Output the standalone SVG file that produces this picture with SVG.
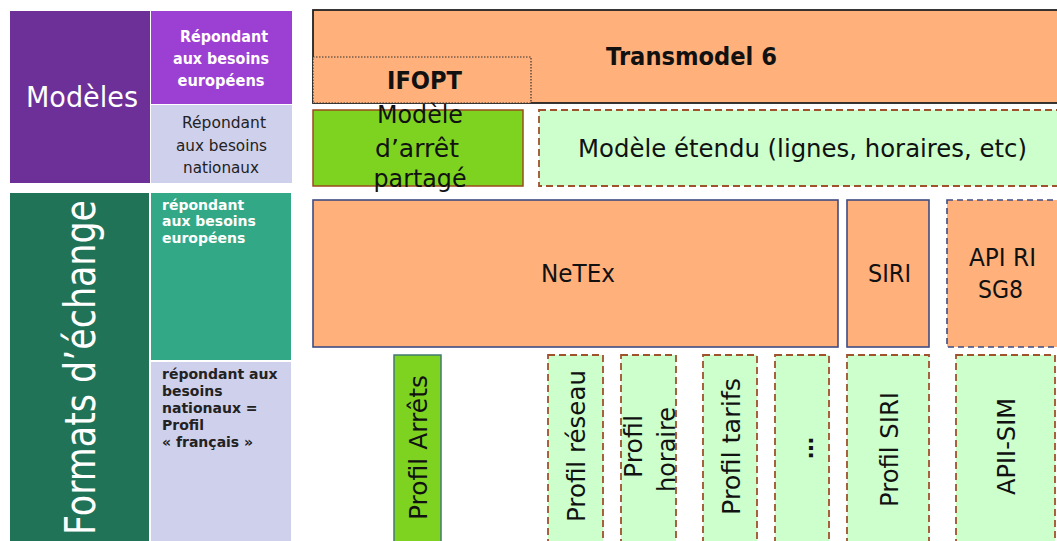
<svg xmlns="http://www.w3.org/2000/svg" width="1057" height="541" viewBox="0 0 1057 541">
<style>
text{font-family:"DejaVu Sans","Liberation Sans",sans-serif;}
.w{fill:#fff}
.k{fill:#111}
.d{fill:#222}
.b{font-weight:bold}
.m{text-anchor:middle}
.t25{font-size:25px}
.or{fill:#FFB07B}
.lg{fill:#CCFFCC;stroke:#A0522D;stroke-width:1.8;stroke-dasharray:7 4}
.nv{stroke:#3F4B82;stroke-width:1.6}
</style>
<rect width="1057" height="541" fill="#fff"/>
<g id="modeles">
<rect x="10" y="11" width="140" height="172" fill="#6D2F98"/>
<text class="w m" x="82" y="107" font-size="28" textLength="112" lengthAdjust="spacingAndGlyphs">Modèles</text>
</g>
<g id="modeles-europeens">
<rect x="151" y="11" width="141" height="93" fill="#9C3FD3"/>
<text class="w m b" font-size="15"><tspan x="224" y="42" textLength="88" lengthAdjust="spacingAndGlyphs">Répondant</tspan><tspan x="221" y="64" textLength="96" lengthAdjust="spacingAndGlyphs">aux besoins</tspan><tspan x="221" y="86" textLength="87" lengthAdjust="spacingAndGlyphs">européens</tspan></text>
</g>
<g id="modeles-nationaux">
<rect x="151" y="105" width="141" height="78" fill="#CFD0EC"/>
<text class="d m" font-size="15"><tspan x="224" y="128" textLength="84" lengthAdjust="spacingAndGlyphs">Répondant</tspan><tspan x="221.5" y="151" textLength="91" lengthAdjust="spacingAndGlyphs">aux besoins</tspan><tspan x="221" y="173" textLength="76" lengthAdjust="spacingAndGlyphs">nationaux</tspan></text>
</g>
<g id="formats">
<rect x="10" y="193" width="139" height="360" fill="#217358"/>
<text class="w m" font-size="42" transform="translate(95,367.5) rotate(-90)" textLength="335" lengthAdjust="spacingAndGlyphs">Formats d’échange</text>
</g>
<g id="formats-europeens">
<rect x="151" y="193" width="140" height="167" fill="#32A886"/>
<text class="w b" font-size="14"><tspan x="162" y="210">répondant</tspan><tspan x="162" y="226">aux besoins</tspan><tspan x="162" y="243">européens</tspan></text>
</g>
<g id="formats-nationaux">
<rect x="151" y="362" width="140" height="190" fill="#CFD0EC"/>
<text class="d b" font-size="14"><tspan x="162" y="379">répondant aux</tspan><tspan x="162" y="396">besoins</tspan><tspan x="162" y="413">nationaux =</tspan><tspan x="162" y="430">Profil</tspan><tspan x="162" y="447">« français »</tspan></text>
</g>
<g id="transmodel">
<rect x="313" y="10" width="760" height="93" class="or" stroke="#222" stroke-width="1.8"/>
<text class="k m b" x="691.5" y="65" font-size="25" textLength="171" lengthAdjust="spacingAndGlyphs">Transmodel 6</text>
</g>
<g id="ifopt">
<rect x="313" y="57" width="218" height="46" class="or" stroke="#333" stroke-width="1.2" stroke-dasharray="1.5 1.5"/>
<text class="k m b" x="424.5" y="89" font-size="24" textLength="75" lengthAdjust="spacingAndGlyphs">IFOPT</text>
</g>
<g id="modele-arret">
<rect x="313" y="110" width="210" height="76" fill="#7ED321" stroke="#9A4B1C" stroke-width="1.5"/>
<text class="k m t25"><tspan x="420" y="123" textLength="86" lengthAdjust="spacingAndGlyphs">Modèle</tspan><tspan x="417" y="157" textLength="84" lengthAdjust="spacingAndGlyphs">d’arrêt</tspan><tspan x="420" y="187" textLength="93" lengthAdjust="spacingAndGlyphs">partagé</tspan></text>
</g>
<g id="modele-etendu">
<rect x="539" y="110" width="530" height="76" class="lg"/>
<text class="k m t25" x="802.5" y="157" textLength="449" lengthAdjust="spacingAndGlyphs">Modèle étendu (lignes, horaires, etc)</text>
</g>
<g id="netex">
<rect x="313" y="200" width="525" height="147" class="or nv"/>
<text class="k m t25" x="578" y="282" textLength="74" lengthAdjust="spacingAndGlyphs">NeTEx</text>
</g>
<g id="siri">
<rect x="847" y="200" width="82" height="147" class="or nv"/>
<text class="k m t25" x="889.5" y="282" textLength="43" lengthAdjust="spacingAndGlyphs">SIRI</text>
</g>
<g id="api-ri">
<rect x="947" y="200" width="130" height="147" class="or nv" stroke-dasharray="6 4"/>
<text class="k m t25"><tspan x="1002.5" y="266" textLength="67" lengthAdjust="spacingAndGlyphs">API RI</tspan><tspan x="1000.5" y="298" textLength="45" lengthAdjust="spacingAndGlyphs">SG8</tspan></text>
</g>
<g id="profil-arrets">
<rect x="394" y="355" width="47" height="200" fill="#7ED321" stroke="#417A70" stroke-width="1.5"/>
<text class="k m t25" transform="translate(427,447.5) rotate(-90)" textLength="145" lengthAdjust="spacingAndGlyphs">Profil Arrêts</text>
</g>
<g id="profil-reseau">
<rect x="548" y="355" width="55" height="200" class="lg"/>
<text class="k m t25" transform="translate(585,446) rotate(-90)" textLength="152" lengthAdjust="spacingAndGlyphs">Profil réseau</text>
</g>
<g id="profil-horaire">
<rect x="621" y="355" width="55" height="200" class="lg"/>
<text class="k m t25" transform="translate(642,446.5) rotate(-90)" textLength="63" lengthAdjust="spacingAndGlyphs">Profil</text>
<text class="k m t25" transform="translate(675,449.5) rotate(-90)" textLength="85" lengthAdjust="spacingAndGlyphs">horaire</text>
</g>
<g id="profil-tarifs">
<rect x="703" y="355" width="54" height="200" class="lg"/>
<text class="k m t25" transform="translate(740,446.5) rotate(-90)" textLength="137" lengthAdjust="spacingAndGlyphs">Profil tarifs</text>
</g>
<g id="profil-autres">
<rect x="775" y="355" width="54" height="200" class="lg"/>
<text class="k m b" font-size="22" transform="translate(813,448) rotate(-90)">…</text>
</g>
<g id="profil-siri">
<rect x="847" y="355" width="82" height="200" class="lg"/>
<text class="k m t25" transform="translate(898,449.5) rotate(-90)" textLength="115" lengthAdjust="spacingAndGlyphs">Profil SIRI</text>
</g>
<g id="apii-sim">
<rect x="956" y="355" width="99" height="200" class="lg"/>
<text class="k m t25" transform="translate(1015,446.5) rotate(-90)" textLength="97" lengthAdjust="spacingAndGlyphs">APII-SIM</text>
</g>
<g id="connectors"/>
</svg>
